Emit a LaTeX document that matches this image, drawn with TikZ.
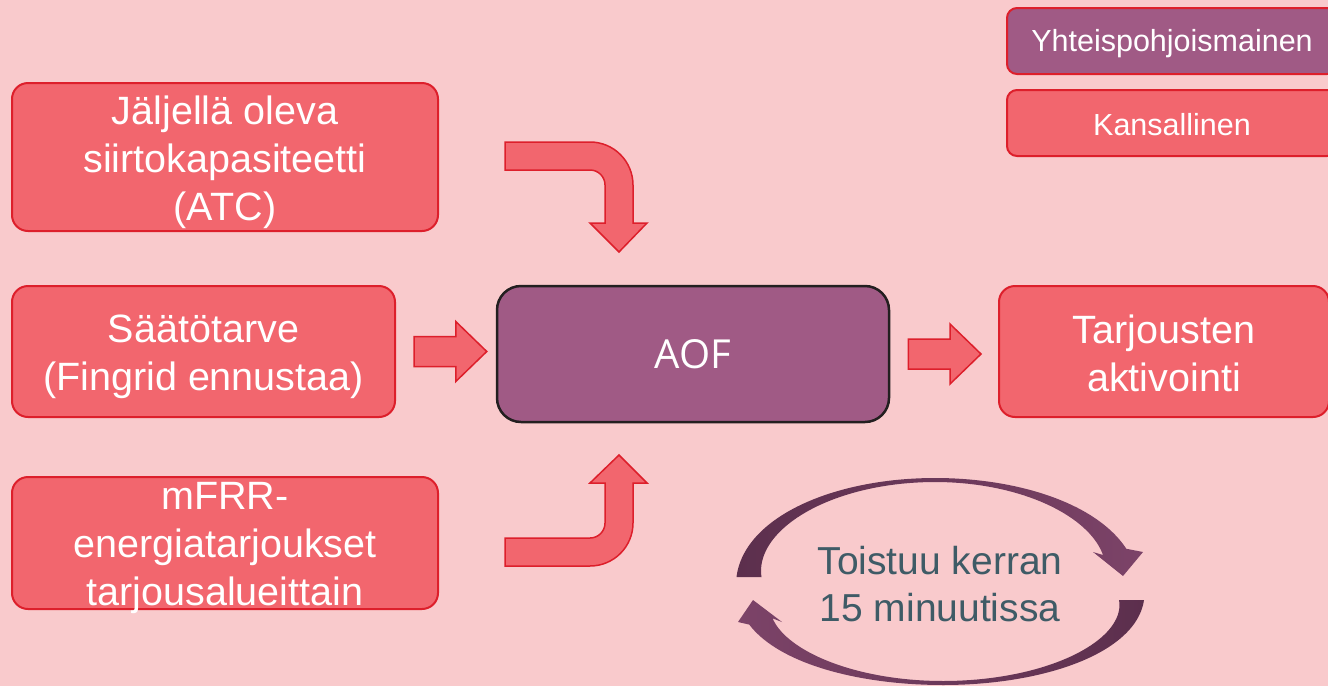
\documentclass[tikz,border=0pt]{standalone}
\usepackage{fontspec}
\setmainfont{Liberation Sans}
\newfontfamily\aoffont{Open Sans}
\usetikzlibrary{calc}
\definecolor{bgpink}{HTML}{F9CACC}
\definecolor{redfill}{HTML}{F2666E}
\definecolor{redline}{HTML}{DD1F2B}
\definecolor{purplefill}{HTML}{A05A85}
\definecolor{aofline}{HTML}{231F20}
\definecolor{slate}{HTML}{3F5B66}
\definecolor{cycdark}{HTML}{5C2F4D}
\definecolor{cyclight}{HTML}{7C4368}
\newcommand\blockarr[2]{%
  \filldraw[arrowshape] ($(#1)+(0,-15)$) -- ($(#2)+(-31,-15)$) -- ($(#2)+(-31,-30)$) -- (#2)
    -- ($(#2)+(-31,30)$) -- ($(#2)+(-31,15)$) -- ($(#1)+(0,15)$) -- cycle;}
\begin{document}
\begin{tikzpicture}[x=1pt,y=-1pt,
  redbox/.style={draw=redline, line width=2pt, fill=redfill, rounded corners=16pt,
    text=white, align=center, font=\fontsize{39.5}{48}\selectfont, inner sep=0pt},
  legbox/.style={draw=redline, line width=2pt, rounded corners=10pt,
    text=white, align=center, font=\fontsize{30.5}{36}\selectfont, inner sep=0pt,
    minimum width=330pt, minimum height=66pt},
  boxtext/.style={text=white, align=center, font=\fontsize{39.5}{48}\selectfont, inner sep=0pt},
  arrowshape/.style={fill=redfill, draw=redline, line width=1.5pt, line join=miter},
  cyctext/.style={text=slate, align=center, font=\fontsize{39}{47}\selectfont, inner sep=0pt}]
\fill[bgpink] (0,0) rectangle (1328,686);
\useasboundingbox (0,0) rectangle (1328,686);
\clip (0,0) rectangle (1328,686);

% boxes (empty frames, text set separately)
\node[redbox, minimum width=426pt, minimum height=148pt] (b1) at (225,157) {};
\node[boxtext, yshift=-5pt] (b1t) at (b1.center) {Jäljellä oleva\\siirtokapasiteetti\\(ATC)};
\node[redbox, minimum width=383pt, minimum height=131pt] (b2) at (203.5,351.5) {};
\node[boxtext, yshift=-5pt] (b2t) at (b2.center) {Säätötarve\\(Fingrid ennustaa)};
\node[redbox, minimum width=426pt, minimum height=132pt] (b3) at (225,543) {};
\node[boxtext, yshift=-5pt] (b3t) at (b3.center) {mFRR-\\energiatarjoukset\\tarjousalueittain};
\node[draw=aofline, line width=2.5pt, fill=purplefill, rounded corners=24pt,
  minimum width=392pt, minimum height=136pt, text=white,
  font=\fontsize{40}{48}\aoffont] (aof) at (693,354) {AOF};
\node[redbox, minimum width=330pt, minimum height=131pt] (out) at (1164,351.5) {};
\node[boxtext, yshift=-2pt] (outt) at (out.center) {Tarjousten\\aktivointi};

% legend
\node[legbox, fill=purplefill] (leg1) at (1172,41) {};
\node[legbox, draw=none, fill=none, yshift=-3pt] (leg1t) at (leg1.center) {Yhteispohjoismainen};
\node[legbox, fill=redfill] (leg2) at (1172,123) {};
\node[legbox, draw=none, fill=none, yshift=-2pt] (leg2t) at (leg2.center) {Kansallinen};

% straight block arrows
\coordinate (s1) at ($(b2.east)+(18,0)$);
\coordinate (t1) at ($(s1 -| aof.west)+(-9,0)$);
\blockarr{s1}{t1}
\coordinate (s2) at ($(aof.east)+(18,0)$);
\coordinate (t2) at ($(s2 -| out.west)+(-17,0)$);
\blockarr{s2}{t2}

% bent arrow from top box
\filldraw[arrowshape] (505,142) -- (590,142) arc[start angle=-90, end angle=0, radius=43]
  -- (633,223) -- (647,223) -- (619,252) -- (590,223) -- (605,223) -- (605,185)
  arc[start angle=0, end angle=-90, radius=15] -- (505,170) -- cycle;
% bent arrow from bottom box
\filldraw[arrowshape] (505,566) -- (590,566) arc[start angle=90, end angle=0, radius=43]
  -- (633,483) -- (647,483) -- (619,455) -- (590,483) -- (605,483) -- (605,523)
  arc[start angle=0, end angle=90, radius=15] -- (505,538) -- cycle;

% cycle arrows
\path[left color=cycdark, right color=cyclight]
  plot[domain=180:15, samples=80] ({935+(186+(4+((\x>90)?21:29)*((\x-90)/90)^2)/2)*cos(\x)}, {577-(97+(4+((\x>90)?21:29)*((\x-90)/90)^2)/2)*sin(\x)})
  -- (1143,552) -- (1123,576) -- (1093,552)
  -- plot[domain=15:180, samples=80] ({935+(186-(4+((\x>90)?21:29)*((\x-90)/90)^2)/2)*cos(\x)}, {577-(97-(4+((\x>90)?21:29)*((\x-90)/90)^2)/2)*sin(\x)})
  -- cycle;
\path[left color=cyclight, right color=cycdark]
  plot[domain=0:165, samples=80] ({943+(188.5+(4+((\x<90)?21:29)*((\x-90)/90)^2)/2)*cos(\x)}, {600+(83+(4+((\x<90)?21:29)*((\x-90)/90)^2)/2)*sin(\x)})
  -- (738,622) -- (753,600) -- (782,622)
  -- plot[domain=165:0, samples=80] ({943+(188.5-(4+((\x<90)?21:29)*((\x-90)/90)^2)/2)*cos(\x)}, {600+(83-(4+((\x<90)?21:29)*((\x-90)/90)^2)/2)*sin(\x)})
  -- cycle;
\node[cyctext] (cyc) at (940,584) {Toistuu kerran\\15 minuutissa};
\end{tikzpicture}
\end{document}
